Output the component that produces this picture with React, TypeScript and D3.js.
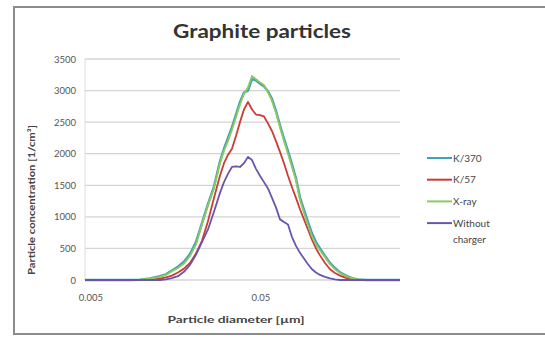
import React from "react";
import * as d3 from "d3";

// particle diameters [µm], log spaced channels
const diameters = [
  0.00455, 0.00557, 0.00683, 0.00836, 0.00958, 0.01097, 0.01256, 0.01362, 0.01477, 0.01602,
  0.01738, 0.01886, 0.02045, 0.02218, 0.02406, 0.0261, 0.02831, 0.02989, 0.03155, 0.0333,
  0.03516, 0.03712, 0.03919, 0.04137, 0.04368, 0.0461, 0.04866, 0.05137, 0.05423, 0.05725,
  0.06044, 0.0638, 0.06737, 0.07111, 0.07508, 0.07924, 0.08365, 0.08832, 0.09323, 0.09842,
  0.1039, 0.1097, 0.1174, 0.1256, 0.1344, 0.1438, 0.156, 0.1692, 0.1835, 0.2018,
  0.231, 0.2645, 0.3242,
];

const k370 = [
  0, 0, 0, 0, 5, 25, 60, 90, 150, 210, 290, 410, 600, 900, 1200, 1480, 1880, 2080, 2250, 2420,
  2620, 2820, 2970, 3000, 3180, 3160, 3110, 3070, 2990, 2870, 2680, 2450, 2240, 2040, 1830, 1610,
  1310, 1110, 920, 740, 600, 500, 380, 270, 190, 120, 70, 30, 10, 0, 0, 0, 0,
];

const k57 = [
  0, 0, 0, 0, 0, 5, 20, 40, 70, 120, 180, 270, 420, 620, 930, 1300, 1650, 1850, 1980, 2080,
  2280, 2500, 2700, 2820, 2700, 2620, 2610, 2590, 2480, 2360, 2200, 2030, 1850, 1650, 1470, 1300,
  1120, 960, 800, 640, 500, 390, 270, 170, 110, 70, 35, 15, 5, 0, 0, 0, 0,
];

const xray = [
  0, 0, 0, 0, 5, 20, 50, 80, 140, 190, 260, 380, 560, 880, 1180, 1450, 1850, 2050, 2200, 2380,
  2580, 2780, 2950, 3050, 3230, 3180, 3130, 3090, 2970, 2840, 2650, 2420, 2200, 2000, 1790, 1580,
  1270, 1060, 870, 690, 560, 470, 360, 250, 170, 110, 60, 25, 8, 0, 0, 0, 0,
];

const withoutCharger = [
  0, 0, 0, 0, 0, 0, 0, 10, 30, 60, 130, 240, 400, 600, 800, 1080, 1380, 1550, 1680, 1790,
  1800, 1790, 1850, 1950, 1900, 1760, 1650, 1550, 1450, 1300, 1150, 960, 920, 880, 680, 540,
  430, 340, 250, 170, 120, 80, 50, 25, 10, 0, 0, 0, 0, 0, 0, 0, 0,
];

const seriesNames = ["K/370", "K/57", "X-ray", "Without charger"];
const seriesValues = [k370, k57, xray, withoutCharger];
const seriesColors = ["#3fa2b8", "#cc3b36", "#8fc95e", "#6a55ad"];

const yTicks = [0, 500, 1000, 1500, 2000, 2500, 3000, 3500];
const xTickValues = [0.005, 0.05];
const xTickLabels = ["0.005", "0.05"];

const App: React.FC = () => {
  const width = 545;
  const height = 338;
  const plot = { left: 85, right: 400, top: 59, bottom: 280 };

  const x = d3
    .scaleLog()
    .domain([diameters[0], diameters[diameters.length - 1]])
    .range([plot.left, plot.right]);

  const y = d3.scaleLinear().domain([0, 3500]).range([plot.bottom, plot.top]);

  const line = d3
    .line<number>()
    .x((_, i) => x(diameters[i]))
    .y((d) => y(d));

  const font = "Lato, 'Open Sans', sans-serif";

  return (
    <svg
      width={width}
      height={height}
      style={{ position: "absolute", left: 0, top: 0, background: "#fff" }}
      fontFamily={font}
    >
      <rect x={14} y={7} width={540} height={327} fill="#fff" stroke="#8c8c8c" strokeWidth={2} />

      <text
        x={262}
        y={38}
        textAnchor="middle"
        fontSize={18}
        fontWeight="bold"
        fill="#333"
        textLength={178}
        lengthAdjust="spacingAndGlyphs"
      >
        Graphite particles
      </text>

      {yTicks.map((t) => (
        <g key={t}>
          <line x1={plot.left} x2={plot.right} y1={y(t)} y2={y(t)} stroke="#d4d4d4" strokeWidth={1.3} />
          <text x={76} y={y(t) + 3.5} textAnchor="end" fontSize={9.5} fill="#555">
            {t}
          </text>
        </g>
      ))}
      <line x1={plot.left} x2={plot.left} y1={plot.top} y2={plot.bottom} stroke="#dcdcdc" />

      {xTickValues.map((v, i) => (
        <text key={v} x={x(v) - 1} y={301} textAnchor="middle" fontSize={9.5} fill="#555">
          {xTickLabels[i]}
        </text>
      ))}

      <text
        x={236}
        y={323}
        textAnchor="middle"
        fontSize={10}
        fontWeight="bold"
        fill="#444"
        textLength={137}
        lengthAdjust="spacingAndGlyphs"
      >
        Particle diameter [µm]
      </text>
      <text
        transform="translate(35,200) rotate(-90)"
        textAnchor="middle"
        fontSize={9}
        fontWeight="bold"
        fill="#444"
        textLength={150}
        lengthAdjust="spacingAndGlyphs"
      >
        Particle concentration [1/cm³]
      </text>

      {seriesValues.map((vals, i) => (
        <path
          key={seriesNames[i]}
          d={line(vals) || ""}
          fill="none"
          stroke={seriesColors[i]}
          strokeWidth={i === 0 ? 2.4 : 1.8}
          strokeLinejoin="round"
        />
      ))}

      {seriesNames.map((name, i) => {
        const ly = 158 + i * 21.7;
        return (
          <g key={name}>
            <line x1={427} x2={452} y1={ly} y2={ly} stroke={seriesColors[i]} strokeWidth={2} />
            {name === "Without charger" ? (
              <text x={453} y={ly + 3.5} fontSize={10} fill="#444">
                <tspan x={453}>Without</tspan>
                <tspan x={453} dy={16.5}>
                  charger
                </tspan>
              </text>
            ) : (
              <text x={453} y={ly + 3.5} fontSize={10} fill="#444">
                {name}
              </text>
            )}
          </g>
        );
      })}
    </svg>
  );
};

export default App;
